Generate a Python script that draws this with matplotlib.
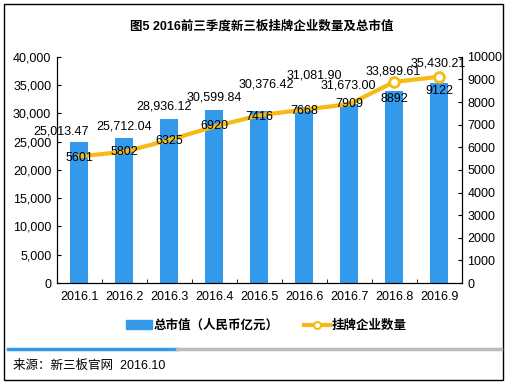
import matplotlib
matplotlib.use("Agg")
import matplotlib.pyplot as plt
from matplotlib.lines import Line2D
from matplotlib.patches import Patch, Rectangle
from matplotlib.ticker import FuncFormatter, MultipleLocator

plt.rcParams['font.family'] = ['Liberation Sans', 'Noto Sans CJK SC', 'DejaVu Sans']

months = ['2016.1', '2016.2', '2016.3', '2016.4', '2016.5', '2016.6', '2016.7', '2016.8', '2016.9']
market_value = [25013.47, 25712.04, 28936.12, 30599.84, 30376.42, 31081.90, 31673.00, 33899.61, 35430.21]
listed_count = [5601, 5802, 6325, 6920, 7416, 7668, 7909, 8892, 9122]

# label nudges in points (hand placed in the original)
bar_lbl_dx = [-13, 0, -4, 0, 5, 7, -1, -1, -1]
bar_lbl_dy = [7, 8, 9, 9, 19, 23, 13, 14, 14]
line_lbl_dy = [-1, 0, -1, 0, -1, -1, 0, -12, -10]

blue = '#3399EA'
gold = '#F5BA14'

fig = plt.figure(figsize=(5.12, 3.84), dpi=100)
ax = fig.add_axes([0.111, 0.263, 0.791, 0.589])
ax2 = ax.twinx()

x = list(range(len(months)))
ax.bar(x, market_value, width=0.4, color=blue, zorder=2)
ax2.plot(x, listed_count, color=gold, lw=3, zorder=3)
ax2.plot(x[-2:], listed_count[-2:], 'o', ms=7, mfc='white', mec=gold, mew=2, zorder=4)

ax.set_xlim(-0.5, len(months) - 0.5)
ax.set_ylim(0, 40000)
ax2.set_ylim(0, 10000)
ax.yaxis.set_major_locator(MultipleLocator(5000))
ax2.yaxis.set_major_locator(MultipleLocator(1000))
ax.yaxis.set_major_formatter(FuncFormatter(lambda v, p: f'{int(v):,}'))
ax.set_xticks(x)
ax.set_xticklabels(months)
ax.set_xticks([i - 0.5 for i in range(len(months) + 1)], minor=True)
ax.tick_params(axis='x', which='major', length=0, labelsize=9, pad=6)
ax.tick_params(axis='x', which='minor', length=3, direction='in')
ax.tick_params(axis='y', direction='in', length=3, labelsize=9, pad=4)
ax2.tick_params(axis='y', direction='in', length=3, labelsize=9, pad=4)
for a in (ax, ax2):
    a.spines['top'].set_visible(False)
    for s in a.spines.values():
        s.set_linewidth(0.8)

for i, v in enumerate(market_value):
    ax2.annotate(f'{v:,.2f}', xy=(i, v), xycoords=ax.transData,
                 xytext=(bar_lbl_dx[i], bar_lbl_dy[i]), textcoords='offset points',
                 ha='center', va='center', fontsize=9, zorder=5)
for i, v in enumerate(listed_count):
    ax2.annotate(str(v), xy=(i, v), xytext=(0, line_lbl_dy[i]), textcoords='offset points',
                 ha='center', va='center', fontsize=9, zorder=5)

fig.text(0.512, 0.93, '图5 2016前三季度新三板挂牌企业数量及总市值', ha='center', va='center',
         fontsize=9, fontweight='bold')

handles = [Patch(color=blue),
           Line2D([0], [0], color=gold, lw=3, marker='o', ms=5, mfc='white', mec=gold, mew=1.5)]
fig.legend(handles, ['总市值（人民币亿元）', '挂牌企业数量'], loc='center', ncol=2,
           bbox_to_anchor=(0.52, 0.151), frameon=False, handlelength=2.1, handletextpad=0.1,
           columnspacing=2, prop={'size': 9, 'weight': 'bold'})

fig.add_artist(Line2D([0.016, 0.346], [0.091, 0.091], color=blue, lw=2.5))
fig.add_artist(Line2D([0.346, 0.978], [0.091, 0.091], color='#BBBBBB', lw=2.5))
fig.text(0.025, 0.047, '来源：新三板官网  2016.10', ha='left', va='center', fontsize=9)
fig.add_artist(Rectangle((0.008, 0.01), 0.975, 0.98, fill=False, ec='black', lw=1,
                         transform=fig.transFigure))

fig.savefig('out.png', dpi=100)
